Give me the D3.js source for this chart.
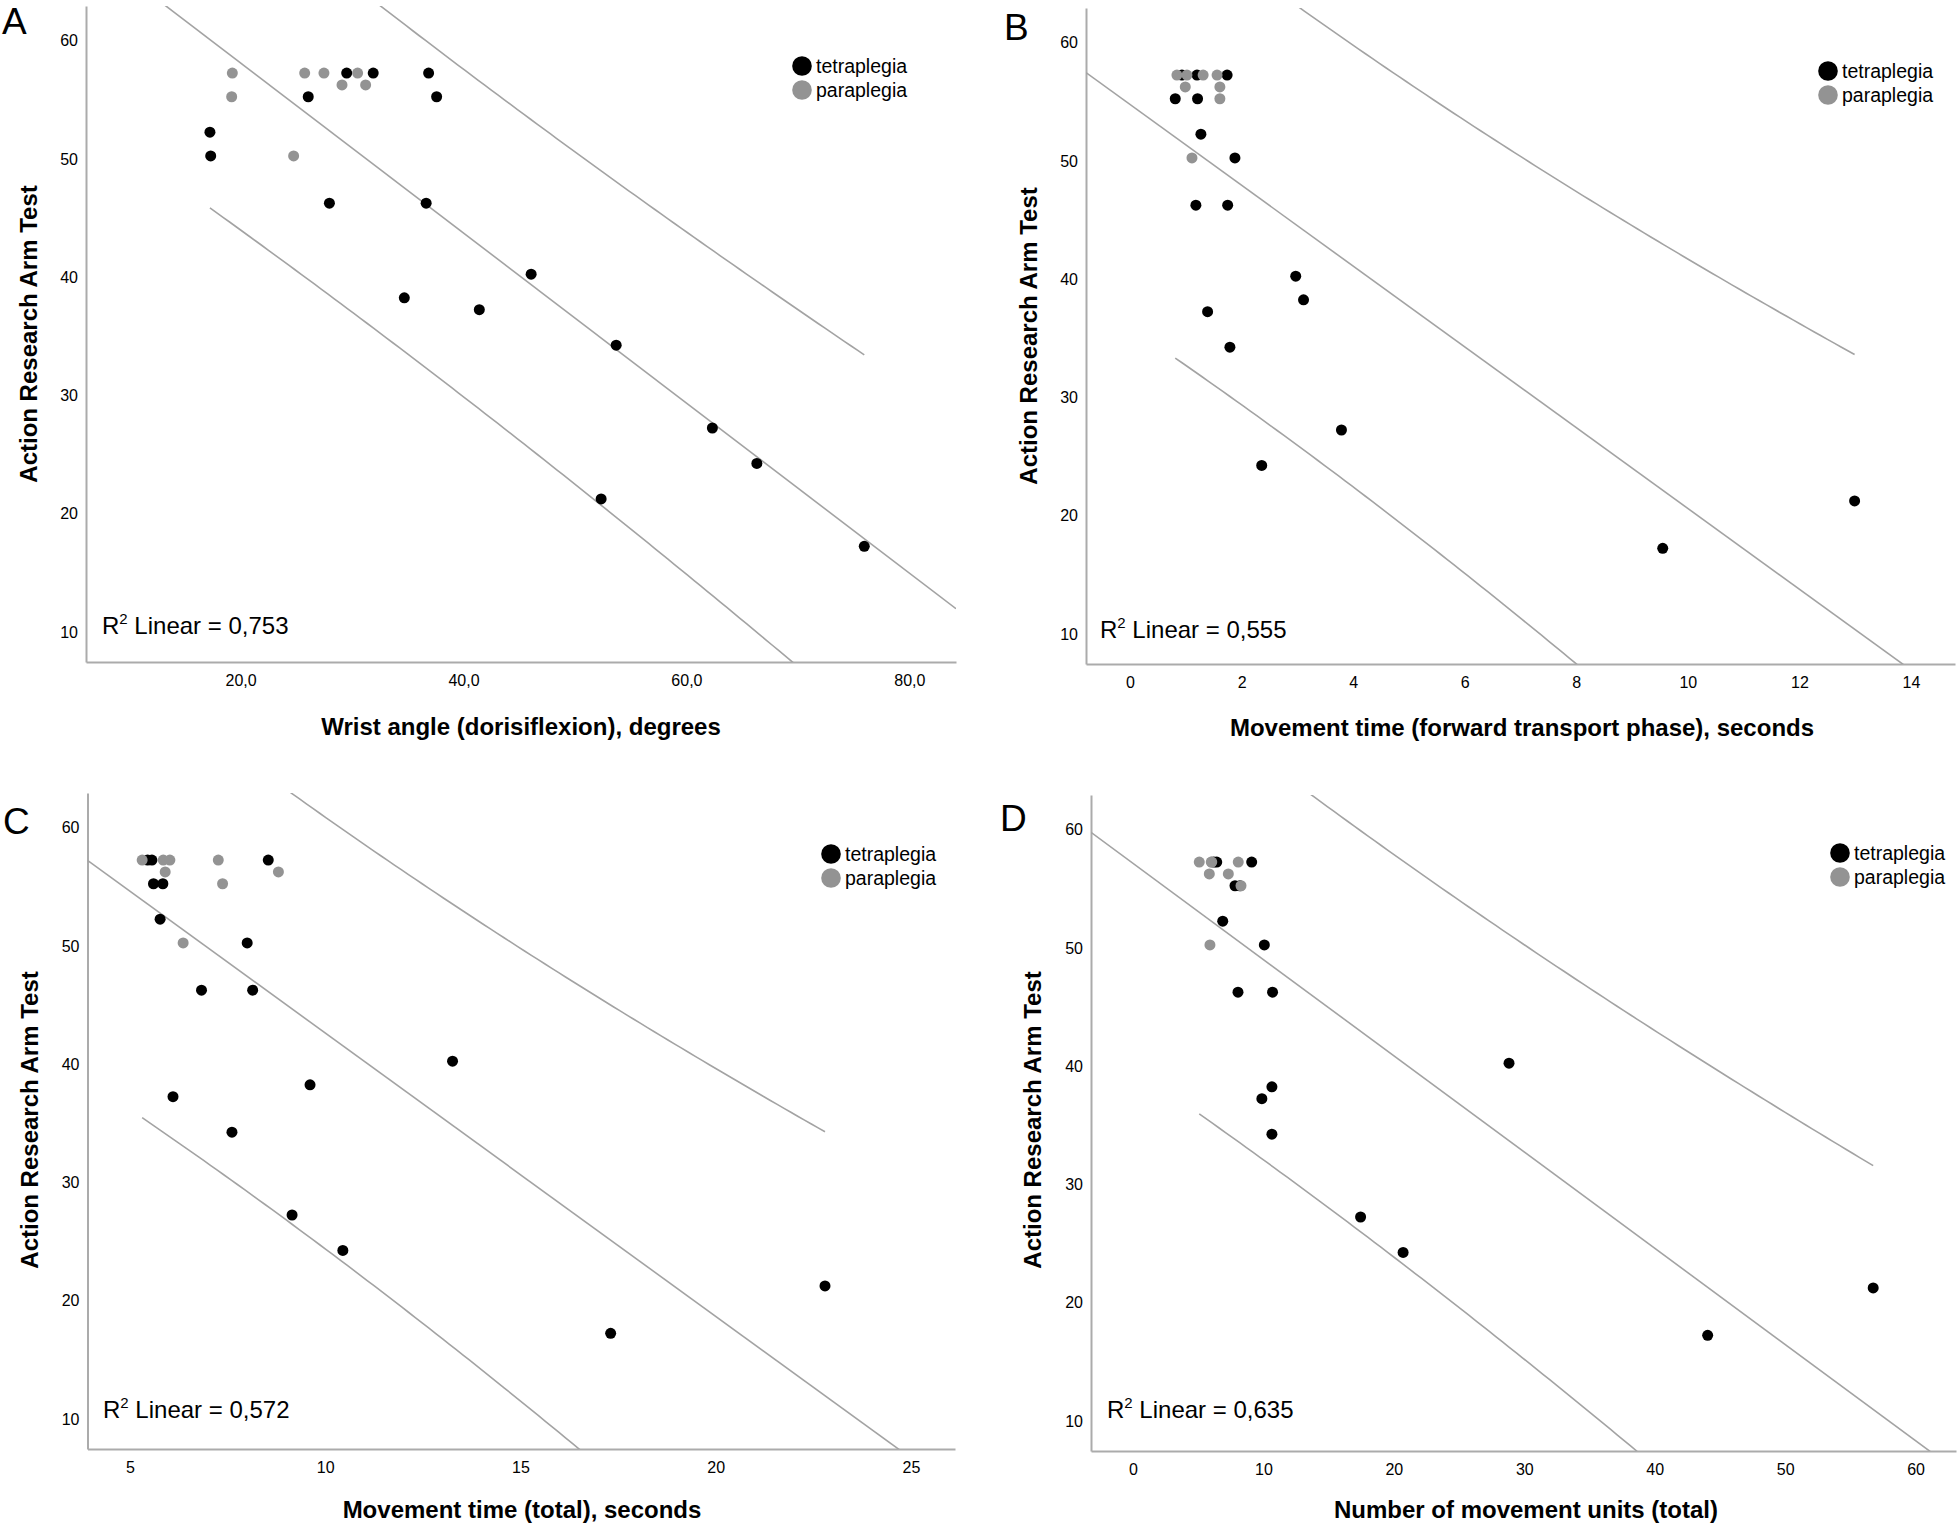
<!DOCTYPE html>
<html>
<head>
<meta charset="utf-8">
<script src="https://cdn.jsdelivr.net/npm/d3@7"></script>
<style>
  body { margin: 0; background: #fff; }
  svg { display: block; }
  text { font-family: "Liberation Sans", Arial, sans-serif; fill: #000; }
</style>
</head>
<body>
<svg id="chart" width="1960" height="1526"></svg>
<script>
// ---- data: [x, ARAT score] ----
const groups = ['tetraplegia', 'paraplegia'];
const yTicks = [10, 20, 30, 40, 50, 60];
const yDomain = [7.22, 62.67];

const wristTetra = [[17.25, 52], [17.32, 50], [26.07, 55], [27.97, 46], [29.52, 57], [31.9, 57],
  [34.69, 38], [36.65, 46], [36.87, 57], [37.59, 55], [41.42, 37], [46.07, 40], [53.7, 34],
  [52.35, 21], [62.33, 27], [66.32, 24], [75.96, 17]];
const wristPara = [[19.26, 57], [19.2, 55], [25.75, 57], [27.48, 57], [30.5, 57], [29.1, 56],
  [31.22, 56], [24.76, 50]];

const transportTetra = [[0.93, 57], [1.2, 57], [1.74, 57], [0.81, 55], [1.21, 55], [1.27, 52],
  [1.88, 50], [1.18, 46], [1.75, 46], [2.97, 40], [3.11, 38], [1.39, 37], [1.79, 34],
  [3.79, 27], [2.36, 24], [9.55, 17], [12.99, 21]];
const transportPara = [[0.84, 57], [1.02, 57], [1.31, 57], [1.56, 57], [0.99, 56], [1.61, 56],
  [1.61, 55], [1.11, 50]];

const totalTimeTetra = [[5.56, 57], [5.45, 57], [8.54, 57], [5.6, 55], [5.84, 55], [5.77, 52],
  [8.0, 50], [6.83, 46], [8.14, 46], [13.26, 40], [9.61, 38], [6.1, 37], [7.61, 34],
  [9.15, 27], [10.45, 24], [22.8, 21], [17.31, 17]];
const totalTimePara = [[5.31, 57], [5.85, 57], [6.02, 57], [7.26, 57], [5.9, 56], [8.8, 56],
  [7.37, 55], [6.36, 50]];

const unitsTetra = [[6.42, 57], [6.2, 57], [9.1, 57], [7.82, 55], [8.2, 55], [6.88, 52],
  [10.07, 50], [8.05, 46], [10.7, 46], [28.83, 40], [10.65, 38], [9.88, 37], [10.65, 34],
  [17.45, 27], [20.71, 24], [56.75, 21], [44.06, 17]];
const unitsPara = [[5.08, 57], [6.04, 57], [8.07, 57], [6.0, 57], [5.85, 56], [7.31, 56],
  [8.28, 55], [5.9, 50]];

const xTitles = ['Wrist angle (dorisiflexion), degrees',
  'Movement time (forward transport phase), seconds',
  'Movement time (total), seconds',
  'Number of movement units (total)'];
const r2Labels = ['0,753', '0,555', '0,572', '0,635'];
const xTickSets = [[20, 40, 60, 80], [0, 2, 4, 6, 8, 10, 12, 14], [5, 10, 15, 20, 25],
  [0, 10, 20, 30, 40, 50, 60]];
const xDomains = [[6.13, 84.19], [-0.79, 14.79], [3.91, 26.13], [-3.22, 63.1]];

// t(0.975, df = 23) for the 95% individual prediction interval
const T_CRIT = 2.069;

// ---- layout (pixels) ----
const layout = [
  {letter: 'A', lx: 2, ly: 34, left: 86, right: 956, top: 6,
    legend: [802, 66], r2: [102, 634], yTitle: [37, 334], xTitle: [521, 727]},
  {letter: 'B', lx: 1004, ly: 40, left: 1086, right: 1955, top: 8,
    legend: [1828, 71], r2: [1100, 638], yTitle: [1037, 336], xTitle: [1522, 728]},
  {letter: 'C', lx: 3, ly: 834, left: 87.5, right: 955, top: 793,
    legend: [831, 854], r2: [103, 1418], yTitle: [38, 1120], xTitle: [522, 1510]},
  {letter: 'D', lx: 1000, ly: 831, left: 1091, right: 1956, top: 795,
    legend: [1840, 853], r2: [1107, 1418], yTitle: [1041, 1120], xTitle: [1526, 1510]}
];
const plotHeight = 656;

const panels = [
  {tetra: wristTetra, para: wristPara, fmt: d => d.toFixed(1).replace('.', ',')},
  {tetra: transportTetra, para: transportPara, fmt: d => d},
  {tetra: totalTimeTetra, para: totalTimePara, fmt: d => d},
  {tetra: unitsTetra, para: unitsPara, fmt: d => d}
];

const colors = {tetraplegia: '#000000', paraplegia: '#939393'};
const lineColor = '#a3a3a3';
const axisColor = '#ababab';

function regress(pts) {
  const n = pts.length;
  const mx = d3.mean(pts, d => d[0]);
  const my = d3.mean(pts, d => d[1]);
  let sxx = 0, sxy = 0, syy = 0;
  pts.forEach(d => {
    sxx += (d[0] - mx) ** 2;
    sxy += (d[0] - mx) * (d[1] - my);
    syy += (d[1] - my) ** 2;
  });
  const b = sxy / sxx;
  const a = my - b * mx;
  const s = Math.sqrt((syy - b * sxy) / (n - 2));
  return {a, b, s, n, mx, sxx};
}

const svg = d3.select('#chart');
svg.append('rect').attr('width', 1960).attr('height', 1526).attr('fill', '#fff');

panels.forEach((p, i) => {
  const L = layout[i];
  const bottom = L.top + plotHeight;
  const x = d3.scaleLinear().domain(xDomains[i]).range([L.left, L.right]);
  const y = d3.scaleLinear().domain(yDomain).range([bottom, L.top]);
  const g = svg.append('g');

  const clipId = 'clip' + i;
  g.append('clipPath').attr('id', clipId)
    .append('rect')
    .attr('x', L.left).attr('y', L.top)
    .attr('width', L.right - L.left).attr('height', bottom - L.top);

  // axes
  const yAxis = g.append('g')
    .attr('transform', `translate(${L.left},0)`)
    .call(d3.axisLeft(y).tickValues(yTicks).tickSize(0).tickSizeOuter(0).tickPadding(8));
  const xAxis = g.append('g')
    .attr('transform', `translate(0,${bottom})`)
    .call(d3.axisBottom(x).tickValues(xTickSets[i]).tickSize(0).tickSizeOuter(0)
      .tickPadding(13).tickFormat(p.fmt));
  [yAxis, xAxis].forEach(ax => {
    ax.select('.domain').attr('stroke', axisColor).attr('stroke-width', 2);
    ax.selectAll('text').attr('font-size', 16)
      .attr('font-family', '"Liberation Sans", Arial, sans-serif').attr('fill', '#000');
  });
  yAxis.selectAll('.tick text').attr('y', 3);

  // regression line and 95% prediction interval
  const all = p.tetra.concat(p.para);
  const fit = regress(all);
  const pred = xv => fit.a + fit.b * xv;
  const half = xv => T_CRIT * fit.s * Math.sqrt(1 + 1 / fit.n + (xv - fit.mx) ** 2 / fit.sxx);
  const xmin = d3.min(all, d => d[0]), xmax = d3.max(all, d => d[0]);
  const xs = d3.range(0, 101).map(k => xmin + (xmax - xmin) * k / 100);
  const line = d3.line().x(d => x(d[0])).y(d => y(d[1]));
  const lines = g.append('g').attr('clip-path', `url(#${clipId})`)
    .attr('fill', 'none').attr('stroke', lineColor).attr('stroke-width', 1.6);
  lines.append('path').attr('d', line(xDomains[i].map(v => [v, pred(v)])));
  lines.append('path').attr('d', line(xs.map(v => [v, pred(v) + half(v)])));
  lines.append('path').attr('d', line(xs.map(v => [v, pred(v) - half(v)])));

  // points: tetraplegia first, paraplegia drawn over it
  [['tetraplegia', p.tetra], ['paraplegia', p.para]].forEach(([grp, pts]) => {
    g.append('g').selectAll('circle')
      .data(pts).enter().append('circle')
      .attr('cx', d => x(d[0]))
      .attr('cy', d => y(d[1]))
      .attr('r', 5.5)
      .attr('fill', colors[grp]);
  });

  // legend
  const lg = g.append('g').attr('transform', `translate(${L.legend[0]},${L.legend[1]})`);
  groups.forEach((grp, k) => {
    lg.append('circle').attr('cx', 0).attr('cy', k * 24).attr('r', 9.8).attr('fill', colors[grp]);
    lg.append('text').attr('x', 14).attr('y', k * 24).attr('dy', '0.35em')
      .attr('font-size', 19.5).text(grp);
  });

  // R squared label
  const r2 = g.append('text').attr('x', L.r2[0]).attr('y', L.r2[1]).attr('font-size', 24);
  r2.append('tspan').text('R');
  r2.append('tspan').attr('font-size', 15).attr('dy', -10).text('2');
  r2.append('tspan').attr('dy', 10).text(' Linear = ' + r2Labels[i]);

  // axis titles
  g.append('text')
    .attr('transform', `translate(${L.yTitle[0]},${L.yTitle[1]}) rotate(-90)`)
    .attr('text-anchor', 'middle').attr('font-size', 24).attr('font-weight', 'bold')
    .text('Action Research Arm Test');
  g.append('text')
    .attr('x', L.xTitle[0]).attr('y', L.xTitle[1]).attr('dy', '0.35em')
    .attr('text-anchor', 'middle').attr('font-size', 24).attr('font-weight', 'bold')
    .text(xTitles[i]);

  // panel letter
  g.append('text').attr('x', L.lx).attr('y', L.ly)
    .attr('font-size', 37).attr('font-family', '"DejaVu Sans", sans-serif')
    .attr('font-weight', 300).text(L.letter);
});
</script>
</body>
</html>
